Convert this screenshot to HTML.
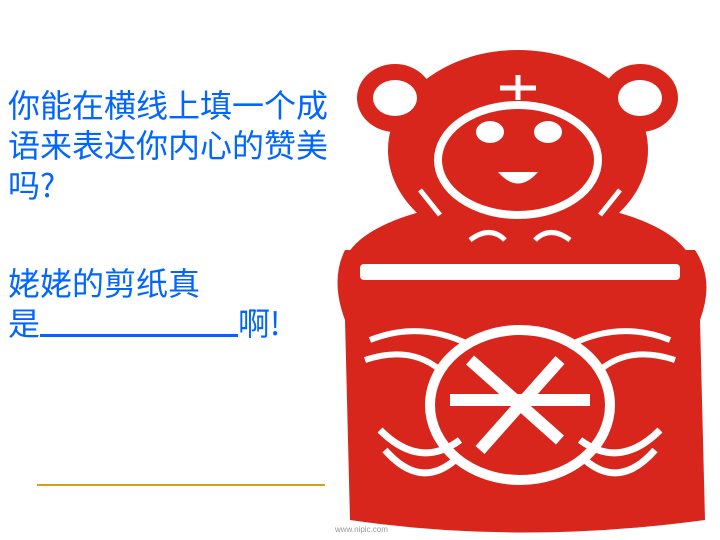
<!DOCTYPE html>
<html><head><meta charset="utf-8"><style>
html,body{margin:0;padding:0;background:#fff;}
#s{position:relative;width:720px;height:540px;overflow:hidden;background:#fff;font-family:"Liberation Sans","Noto Sans CJK SC",sans-serif;}
.t{position:absolute;left:8px;color:#0066ff;font-size:32px;line-height:40px;white-space:nowrap;font-family:"Noto Sans CJK SC","WenQuanYi Zen Hei",sans-serif;}
</style></head><body>
<div id="s">
<div class="t" style="top:84px;">你能在横线上填一个成<br>语来表达你内心的赞美<br>吗?</div>
<div class="t" style="top:262px;">姥姥的剪纸真<br>是<span style="display:inline-block;width:198px;border-bottom:3px solid #0066ff;height:28px;vertical-align:-2px;"></span>啊!</div>
<div style="position:absolute;left:37px;top:484px;width:288px;height:2px;background:#d4a017;"></div>
<svg style="position:absolute;left:0;top:0" width="720" height="540">
<g fill="#d9261c">
<ellipse cx="395" cy="98" rx="38" ry="34"/>
<ellipse cx="640" cy="98" rx="38" ry="34"/>
<ellipse cx="518" cy="150" rx="130" ry="100"/>
<ellipse cx="518" cy="270" rx="175" ry="70"/>
<path d="M345 250 Q330 280 345 320 L350 520 Q520 545 705 520 L700 320 Q715 280 695 250 Z"/>
</g>
<g fill="#fff">
<ellipse cx="395" cy="98" rx="22" ry="18"/>
<ellipse cx="640" cy="98" rx="22" ry="18"/>
<ellipse cx="518" cy="160" rx="80" ry="55" fill="none" stroke="#fff" stroke-width="8"/>
<ellipse cx="490" cy="132" rx="14" ry="11"/>
<ellipse cx="548" cy="132" rx="14" ry="11"/>
<path d="M498 172 Q518 195 538 172 Z"/>
<path d="M420 190 L440 215 M600 215 L620 190 M500 88 L536 88 M518 75 L518 100" stroke="#fff" stroke-width="5"/>
<path d="M470 240 Q490 225 505 240 M535 240 Q550 225 570 240" stroke="#fff" stroke-width="5" fill="none"/>
<rect x="360" y="264" width="320" height="16" rx="4"/>
<ellipse cx="520" cy="405" rx="90" ry="75" fill="none" stroke="#fff" stroke-width="10"/>
<path d="M470 360 L560 440 M560 360 L480 450 M450 400 L590 400" stroke="#fff" stroke-width="12"/>
<path d="M380 430 Q420 470 460 440 M580 440 Q620 470 660 430 M385 450 Q420 490 455 460 M585 460 Q620 490 655 450" stroke="#fff" stroke-width="7" fill="none"/>
<path d="M370 340 Q420 320 470 345 M570 345 Q620 320 670 340 M365 360 Q410 345 440 370 M600 370 Q630 345 675 360" stroke="#fff" stroke-width="6" fill="none"/>
</g>
<text x="335" y="532" font-size="8" fill="#999" font-family="Liberation Sans, sans-serif">www.nipic.com</text>
</svg>
</div>
</body></html>
